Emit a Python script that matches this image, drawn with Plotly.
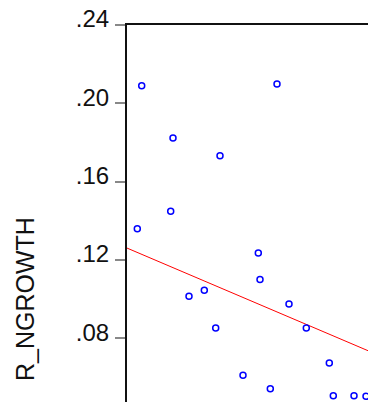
import plotly.graph_objects as go

# Scatter data (x in arbitrary units, y = R_NGROWTH)
x_vals = [0.147, 1.50, 0.46, 0.93, 0.437, 0.103, 1.313, 0.62, 0.773, 1.33,
          1.62, 0.887, 1.793, 2.023, 1.16, 1.433, 2.063, 2.27, 2.39]
y_vals = [0.2090, 0.2099, 0.1823, 0.1733, 0.1449, 0.1360, 0.1236, 0.1015, 0.1045, 0.1101,
          0.0975, 0.0853, 0.0853, 0.0674, 0.0611, 0.0543, 0.0507, 0.0507, 0.0504]

# Fitted regression line endpoints
fit_x = [0.0, 2.41]
fit_y = [0.1261, 0.0737]

tick_vals = [0.08, 0.12, 0.16, 0.20, 0.24]
tick_text = [".08", ".12", ".16", ".20", ".24"]
y_title = "R_NGROWTH"

FONT = "Arial, Liberation Sans, sans-serif"

L, T, W, H = 127, 25, 368, 402
PW = W - L

fig = go.Figure()
fig.add_trace(go.Scatter(x=fit_x, y=fit_y, mode="lines",
                         line=dict(color="#FF0000", width=1), showlegend=False,
                         hoverinfo="skip"))
fig.add_trace(go.Scatter(x=x_vals, y=y_vals, mode="markers",
                         marker=dict(symbol="circle-open", size=6, color="#0000FF",
                                     line=dict(width=1.5, color="#0000FF")),
                         showlegend=False, cliponaxis=False))

fig.update_layout(
    width=W, height=H,
    margin=dict(l=L, r=0, t=T, b=0, pad=0),
    paper_bgcolor="white", plot_bgcolor="white",
    font=dict(family=FONT, color="#111111"),
    xaxis=dict(range=[0, 2.41], side="top", showline=True, linecolor="#111111",
               linewidth=2, showgrid=False, zeroline=False, showticklabels=False,
               ticks=""),
    yaxis=dict(range=[0.0475, 0.24], tickvals=tick_vals, ticktext=tick_text,
               showline=True, linecolor="#111111", linewidth=2, showgrid=False,
               zeroline=False, ticks="outside", ticklen=10, tickwidth=1.5,
               tickcolor="#888888", tickfont=dict(size=24, family=FONT, color="#111111"),
               ticklabelstandoff=1, ticklabelshift=-6, ticklabeloverflow="allow"),
    annotations=[
        dict(text=y_title, textangle=-90, xref="paper", yref="y",
             x=(25 - L) / PW, y=0.1001, xanchor="center", yanchor="middle",
             showarrow=False, font=dict(size=25, family=FONT, color="#111111")),
        dict(text=".04", xref="paper", yref="y", x=(108 - L) / PW, y=0.04,
             xanchor="right", yanchor="middle", yshift=9, showarrow=False,
             font=dict(size=24, family=FONT, color="#111111")),
    ],
)

# remove the default page margin so the figure fills the window exactly
fig.write_html(
    "out.html",
    config={"displayModeBar": False},
    post_script="document.body.style.margin='0';document.body.style.overflow='hidden';"
                "document.documentElement.style.overflow='hidden';",
)
